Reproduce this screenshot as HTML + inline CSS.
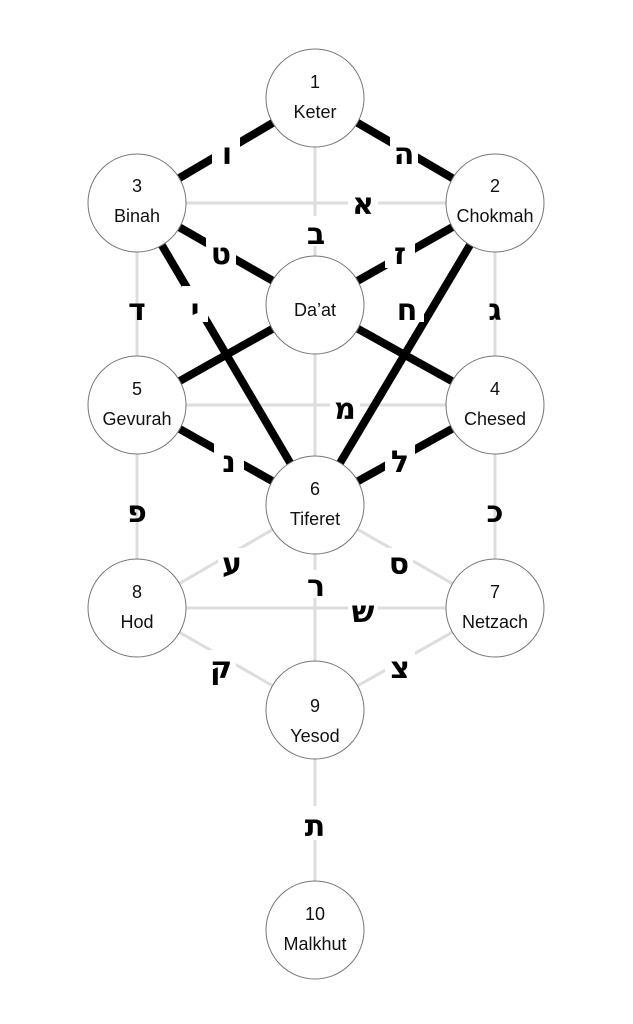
<!DOCTYPE html>
<html><head><style>body{margin:0;background:#fff}svg{display:block}</style></head><body>
<svg width="633" height="1024" viewBox="0 0 633 1024" xmlns="http://www.w3.org/2000/svg">
<g stroke="#ddd" stroke-width="3">
<line x1="315" y1="98" x2="315" y2="505"/>
<line x1="137" y1="203" x2="495" y2="203"/>
<line x1="137" y1="203" x2="137" y2="608"/>
<line x1="495" y1="203" x2="495" y2="608"/>
<line x1="137" y1="405" x2="495" y2="405"/>
<line x1="315" y1="505" x2="137" y2="608"/>
<line x1="315" y1="505" x2="495" y2="608"/>
<line x1="315" y1="505" x2="315" y2="930"/>
<line x1="137" y1="608" x2="495" y2="608"/>
<line x1="137" y1="608" x2="315" y2="710"/>
<line x1="495" y1="608" x2="315" y2="710"/>
</g>
<g stroke="#000" stroke-width="8">
<line x1="315" y1="98" x2="137" y2="203"/>
<line x1="315" y1="98" x2="495" y2="203"/>
<line x1="137" y1="203" x2="315" y2="305"/>
<line x1="495" y1="203" x2="315" y2="305"/>
<line x1="137" y1="203" x2="315" y2="505"/>
<line x1="495" y1="203" x2="315" y2="505"/>
<line x1="315" y1="305" x2="137" y2="405"/>
<line x1="315" y1="305" x2="495" y2="405"/>
<line x1="137" y1="405" x2="315" y2="505"/>
<line x1="495" y1="405" x2="315" y2="505"/>
</g>
<g fill="#fff" stroke="#777" stroke-width="1">
<circle cx="315" cy="98" r="49"/><circle cx="137" cy="203" r="49"/><circle cx="495" cy="203" r="49"/>
<circle cx="315" cy="305" r="49"/><circle cx="137" cy="405" r="49"/><circle cx="495" cy="405" r="49"/>
<circle cx="315" cy="505" r="49"/><circle cx="137" cy="608" r="49"/><circle cx="495" cy="608" r="49"/>
<circle cx="315" cy="710" r="49"/><circle cx="315" cy="930" r="49"/>
</g>
<g font-family="Liberation Sans, DejaVu Sans, sans-serif" font-size="18" text-anchor="middle" fill="#111">
<text x="315" y="88">1</text><text x="315" y="118">Keter</text>
<text x="137" y="192">3</text><text x="137" y="222">Binah</text>
<text x="495" y="192">2</text><text x="495" y="222">Chokmah</text>
<text x="315" y="316">Da’at</text>
<text x="137" y="395">5</text><text x="137" y="425">Gevurah</text>
<text x="495" y="395">4</text><text x="495" y="425">Chesed</text>
<text x="315" y="495">6</text><text x="315" y="525">Tiferet</text>
<text x="137" y="598">8</text><text x="137" y="628">Hod</text>
<text x="495" y="598">7</text><text x="495" y="628">Netzach</text>
<text x="315" y="712">9</text><text x="315" y="742">Yesod</text>
<text x="315" y="920">10</text><text x="315" y="950">Malkhut</text>
</g>
<g fill="#fff">
<rect x="212" y="136" width="28" height="34"/><rect x="390" y="136" width="28" height="34"/>
<rect x="348" y="190" width="30" height="28"/><rect x="302" y="216" width="28" height="30"/>
<rect x="206" y="234" width="30" height="34"/><rect x="385" y="234" width="30" height="34"/>
<rect x="182" y="286" width="26" height="36"/><rect x="394" y="286" width="30" height="36"/>
<rect x="330" y="392" width="30" height="30"/>
<rect x="214" y="440" width="30" height="36"/><rect x="385" y="440" width="30" height="36"/>
<rect x="218" y="548" width="28" height="28"/><rect x="385" y="548" width="28" height="28"/>
<rect x="302" y="570" width="28" height="28"/><rect x="348" y="596" width="30" height="28"/>
<rect x="206" y="650" width="30" height="30"/><rect x="385" y="650" width="30" height="30"/>
<rect x="300" y="806" width="30" height="34"/>
</g>
<g font-family="DejaVu Sans, Liberation Sans, sans-serif" font-size="30" font-weight="bold" text-anchor="middle" fill="#000">
<text x="227" y="164">ו</text><text x="404" y="164">ה</text>
<text x="363" y="214">א</text><text x="316" y="244">ב</text>
<text x="221" y="264">ט</text><text x="400" y="264">ז</text>
<text x="137" y="320">ד</text><text x="195" y="320">י</text>
<text x="407" y="320">ח</text><text x="495" y="320">ג</text>
<text x="345" y="419">מ</text>
<text x="229" y="472">נ</text><text x="400" y="472">ל</text>
<text x="137" y="522">פ</text><text x="495" y="522">כ</text>
<text x="232" y="574">ע</text><text x="399" y="574">ס</text>
<text x="316" y="596">ר</text><text x="363" y="622">ש</text>
<text x="221" y="678">ק</text><text x="400" y="678">צ</text>
<text x="315" y="836">ת</text>
</g>
</svg>
</body></html>
